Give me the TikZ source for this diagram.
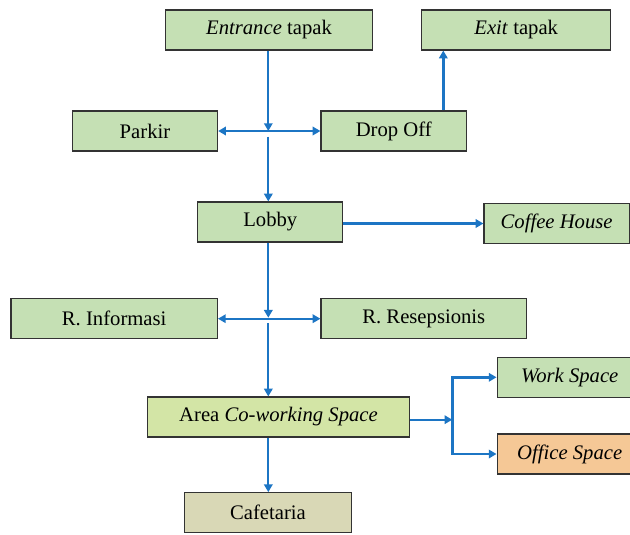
\documentclass[tikz,border=0pt]{standalone}
\usepackage{fontspec}
\setmainfont{Liberation Serif}
\usepackage{tikz}
\usetikzlibrary{positioning,arrows.meta}

\definecolor{boxgreen}{HTML}{C5E0B4}
\definecolor{boxlime}{HTML}{D3E5A6}
\definecolor{boxkhaki}{HTML}{D9D8B6}
\definecolor{boxorange}{HTML}{F5C896}
\definecolor{flowblue}{HTML}{1C75C4}

\begin{document}
\begin{tikzpicture}[x=0.025cm,y=-0.025cm,
        room/.style={draw=black!80,line width=0.8pt,fill=boxgreen,minimum height=1cm,inner sep=1pt,font=\fontsize{14.7}{16}\selectfont},
        flow/.style={draw=flowblue,line width=1.7pt,-{Triangle[length=5.5pt,width=6pt]}},
        flowtwo/.style={flow,{Triangle[length=5.5pt,width=6pt]}-{Triangle[length=5.5pt,width=6pt]}}
    ]
    \useasboundingbox (0,0) rectangle (630,534);

    %--- rooms ---
    \node[room,minimum width=5.185cm] (ent)  at (269,30) {\textit{Entrance} tapak};
    \node[room,minimum width=4.725cm] (exit) at (516.2,30) {\textit{Exit} tapak};
    \node[room,minimum width=3.63cm]  (park) at (145,131) {Parkir};
    \node[room,minimum width=3.64cm]  (drop) at (393.8,131) {Drop Off};
    \node[room,minimum width=3.63cm]  (lobby) at (270.3,222) {Lobby};
    \node[room,minimum width=3.63cm]  (coffee) at (556.6,223.5) {\textit{Coffee House}};
    \node[room,minimum width=5.16cm]  (info) at (114.2,318.7) {R. Informasi};
    \node[room,minimum width=5.14cm]  (resep) at (423.8,318.7) {R. Resepsionis};
    \node[room,fill=boxlime,minimum width=6.54cm] (area) at (278.5,417) {Area \textit{Co-working Space}};
    \node[room,minimum width=3.63cm]  (work) at (569.7,377.3) {\textit{Work Space}};
    \node[room,fill=boxorange,minimum width=3.63cm] (office) at (569.7,454) {\textit{Office Space}};
    \node[room,fill=boxkhaki,minimum width=4.185cm] (cafe) at (268,512.7) {Cafetaria};

    %--- junctions ---
    \coordinate (j1) at (268.3,131);
    \coordinate (j2) at (268.3,317.7);
    \coordinate (j3) at (452.3,419.7);
    \coordinate (ex) at (443.3,0);

    %--- flows ---
    \draw[flow] (ent.south -| j1) -- (j1);
    \draw[flowtwo] (park) -- (drop);
    \draw[flow] ([yshift=-4pt]j1) -- (lobby.north -| j1);
    \draw[flow] (drop.north -| ex) -- (exit.south -| ex);
    \draw[flow] (lobby.east |- coffee.west) -- (coffee.west);
    \draw[flow] (lobby.south -| j2) -- (j2);
    \draw[flowtwo] (info) -- (resep);
    \draw[flow] ([yshift=-4pt]j2) -- (area.north -| j2);
    \draw[flow] (area.east |- j3) -- (j3);
    \draw[flow] (j3) |- (work.west);
    \draw[flow] (j3) |- (office.west);
    \draw[flow] (area.south -| j2) -- (cafe.north -| j2);
\end{tikzpicture}
\end{document}
